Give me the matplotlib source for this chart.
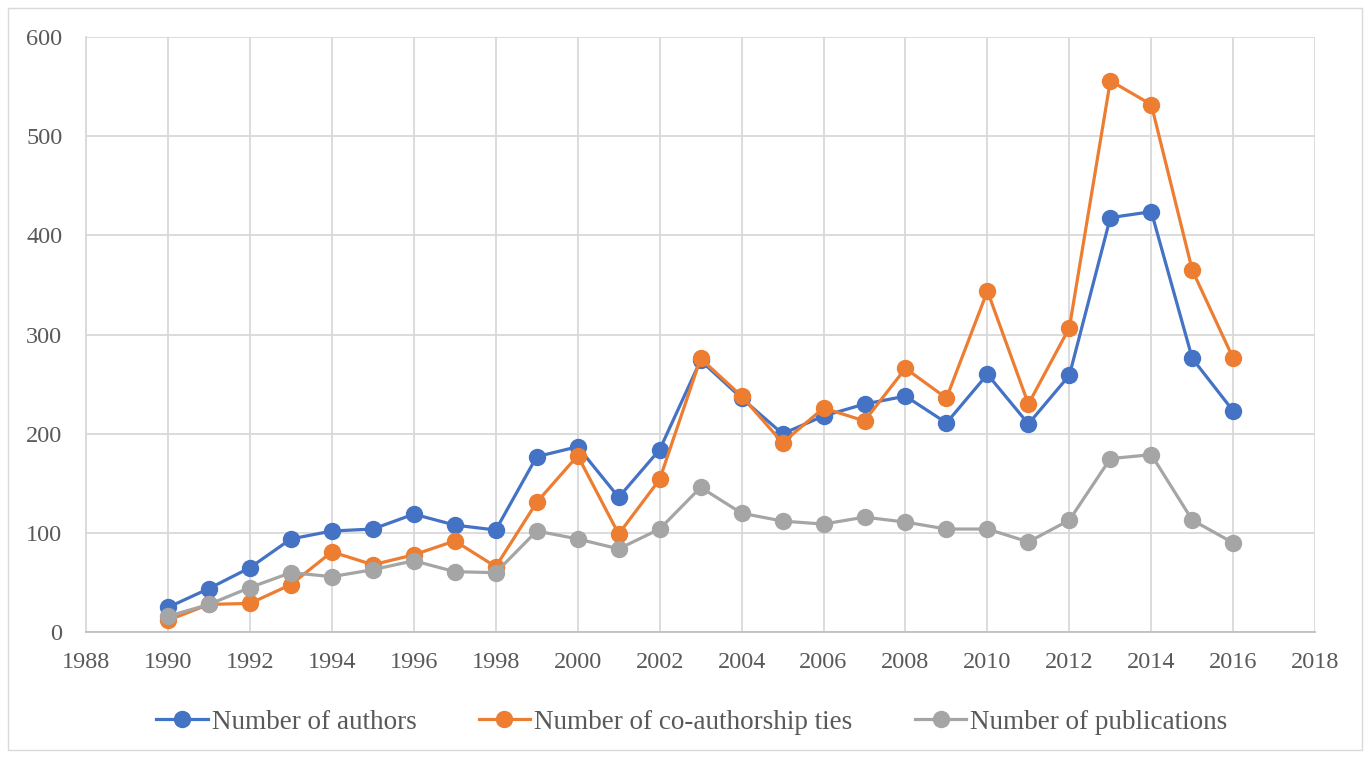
import matplotlib
matplotlib.use('Agg')
import matplotlib.pyplot as plt
from matplotlib.patches import Rectangle

years = list(range(1990, 2017))
authors = [25, 44, 65, 94, 102, 104, 119, 108, 103, 177, 187, 136, 184, 274,
           236, 200, 218, 230, 238, 211, 260, 210, 259, 418, 424, 276, 223]
ties = [12, 28, 29, 48, 81, 68, 78, 92, 66, 131, 178, 99, 154, 276,
        238, 191, 226, 213, 266, 236, 344, 230, 307, 556, 532, 365, 276]
publications = [16, 28, 45, 60, 56, 63, 72, 61, 60, 102, 94, 84, 104, 146,
                120, 112, 109, 116, 111, 104, 104, 91, 113, 175, 179, 113, 90]

plt.rcParams['font.family'] = ['Liberation Serif', 'DejaVu Serif']
text_color = '#595959'

fig = plt.figure(figsize=(13.7, 7.58), dpi=100)
ax = fig.add_axes([0.0628, 0.166, 0.8972, 0.785])

fig.patches.append(Rectangle((0.006, 0.01), 0.988, 0.98, transform=fig.transFigure,
                             fill=False, edgecolor='#D9D9D9', linewidth=1))

series = [
    (authors, '#4472C4', 'Number of authors'),
    (ties, '#ED7D31', 'Number of co-authorship ties'),
    (publications, '#A5A5A5', 'Number of publications'),
]
for vals, color, label in series:
    ax.plot(years, vals, color=color, linewidth=2.3, marker='o', markersize=11.5,
            label=label, zorder=3)

ax.set_xlim(1988, 2018)
ax.set_ylim(0, 600)
ax.set_xticks(range(1988, 2019, 2))
ax.set_yticks(range(0, 601, 100))
ax.grid(True, color='#D9D9D9', linewidth=1.3)
ax.set_axisbelow(True)
for side in ['top', 'right']:
    ax.spines[side].set_visible(False)
ax.spines['left'].set_color('#D9D9D9')
ax.spines['bottom'].set_color('#BFBFBF')
ax.spines['left'].set_linewidth(1.3)
ax.spines['bottom'].set_linewidth(1.3)
ax.tick_params(length=0, labelsize=17.5, labelcolor=text_color)
ax.tick_params(axis='x', pad=14)
ax.tick_params(axis='y', pad=17)

fig.legend(loc='center', bbox_to_anchor=(0.505, 0.047), ncol=3, frameon=False,
           fontsize=19.5, labelcolor=text_color, handlelength=1.9, handletextpad=0.15,
           columnspacing=2.3)

fig.savefig('out.png', dpi=100)
